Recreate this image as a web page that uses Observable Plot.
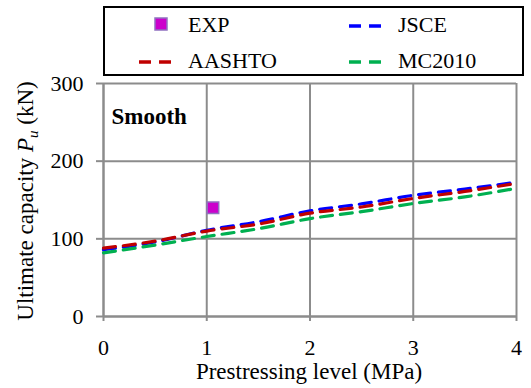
<!DOCTYPE html>
<html><head><meta charset="utf-8">
<script src="https://cdn.jsdelivr.net/npm/d3@7"></script>
<script src="https://cdn.jsdelivr.net/npm/@observablehq/plot@0.6"></script>
<style>
body{margin:0;background:#fff;}
#wrap{position:relative;width:531px;height:388px;font-family:"Liberation Serif",serif;color:#000;}
#legend{position:absolute;left:103px;top:6px;width:417px;height:66px;border:2px solid #000;box-sizing:content-box;background:#fff;z-index:2;}
.item{position:absolute;font-size:22px;line-height:22px;height:22px;}
.item svg{position:absolute;}
#chart{position:absolute;left:0;top:0;}
svg text{font-family:"Liberation Serif",serif;}
</style></head><body><div id="wrap"><div id="chart"></div><div id="legend"></div></div>
<script>
const prestress = [0, 0.5, 1, 1.5, 2, 2.5, 3, 3.5, 4];
const jsce     = [86, 96, 111, 122, 136, 145, 156, 164, 173];
const aashto   = [88, 97, 110, 119, 133, 141, 152, 161, 171.5];
const mc2010   = [82, 92, 103, 113, 126, 135, 145.5, 154, 165];
const expX = [1.06];
const expY = [140];
const seriesNames = ["JSCE", "AASHTO", "MC2010"];
const seriesColors = ["#0000ff", "#c00000", "#00b050"];
const xTicks = [0, 1, 2, 3, 4];
const yTicks = [0, 100, 200, 300];
const panelLabel = "Smooth";

const rows = [];
[jsce, aashto, mc2010].forEach((vals, i) => {
  vals.forEach((v, j) => rows.push({series: seriesNames[i], x: prestress[j], y: v}));
});
const exp = expX.map((x, i) => ({x, y: expY[i]}));
const FF = "Liberation Serif, serif";

const plot = Plot.plot({
  width: 531,
  height: 388,
  marginLeft: 103,
  marginRight: 15,
  marginTop: 83,
  marginBottom: 72,
  style: {fontFamily: FF, fontSize: "22px", color: "#000", background: "transparent", overflow: "visible"},
  x: {domain: [0, 4], ticks: xTicks},
  y: {domain: [0, 300], ticks: yTicks},
  color: {domain: seriesNames, range: seriesColors},
  marks: [
    Plot.gridX(xTicks, {stroke: "#8c8c8c", strokeOpacity: 1, strokeWidth: 2}),
    Plot.gridY(yTicks, {stroke: "#8c8c8c", strokeOpacity: 1, strokeWidth: 2}),
    Plot.axisY({ticks: yTicks, tickFormat: d3.format("d"), tickSize: 7, tickPadding: 13, stroke: "#8c8c8c", strokeWidth: 2, label: null, fill: "#000", fontFamily: FF, fontSize: 22}),
    Plot.axisX({ticks: xTicks, tickFormat: d3.format("d"), tickSize: 5, tickPadding: 18, stroke: "#8c8c8c", strokeWidth: 2, label: null, fill: "#000", fontFamily: FF, fontSize: 22}),
    Plot.ruleX([0], {stroke: "#8c8c8c", strokeWidth: 2}),
    Plot.ruleY([0], {stroke: "#8c8c8c", strokeWidth: 2}),
    Plot.line(rows, {x: "x", y: "y", z: "series", stroke: "series", strokeWidth: 3.2, strokeDasharray: "12,8", curve: "monotone-x"}),
    Plot.dot(exp, {x: "x", y: "y", symbol: "square", r: 6.5, fill: "#cc00cc", stroke: "#9070c0", strokeWidth: 1.5}),
    Plot.text([panelLabel], {frameAnchor: "top-left", dx: 8, dy: 24, fontWeight: "bold", fontSize: 23, fontFamily: FF, textAnchor: "start", fill: "#000"})
  ]
});
document.getElementById("chart").appendChild(plot);

const svg = d3.select(plot);
const yt = svg.append("text")
  .attr("transform", "translate(33,201) rotate(-90)")
  .attr("text-anchor", "middle")
  .attr("font-size", 23)
  .attr("font-family", FF)
  .attr("fill", "#000");
yt.append("tspan").text("Ultimate capacity ");
yt.append("tspan").attr("font-style", "italic").text("P");
yt.append("tspan").attr("font-style", "italic").attr("font-size", 15).attr("dy", 5).text("u");
yt.append("tspan").attr("dy", -5).text(" (kN)");
svg.append("text")
  .attr("x", 309).attr("y", 379)
  .attr("text-anchor", "middle")
  .attr("font-size", 23)
  .attr("font-family", FF)
  .attr("fill", "#000")
  .text("Prestressing level (MPa)");

const legend = document.getElementById("legend");
function addItem(label, left, top, swatch) {
  const d = document.createElement("div");
  d.className = "item";
  d.style.left = left + "px";
  d.style.top = top + "px";
  d.innerHTML = swatch + `<span style="position:absolute;left:83px;top:0;white-space:nowrap">${label}</span>`;
  legend.appendChild(d);
}
const lineSw = c => `<svg width="40" height="22" style="left:32px;top:0"><line x1="2" x2="36" y1="12" y2="12" stroke="${c}" stroke-width="3.5" stroke-dasharray="12,8"/></svg>`;
const sqSw = `<svg width="40" height="22" style="left:44px;top:0"><rect x="6" y="4" width="12" height="12" fill="#cc00cc" stroke="#9070c0" stroke-width="1.5"/></svg>`;
addItem("EXP", 0, 6, sqSw);
addItem("JSCE", 210, 6, lineSw(seriesColors[0]));
addItem("AASHTO", 0, 42, lineSw(seriesColors[1]));
addItem("MC2010", 210, 42, lineSw(seriesColors[2]));
</script></body></html>
